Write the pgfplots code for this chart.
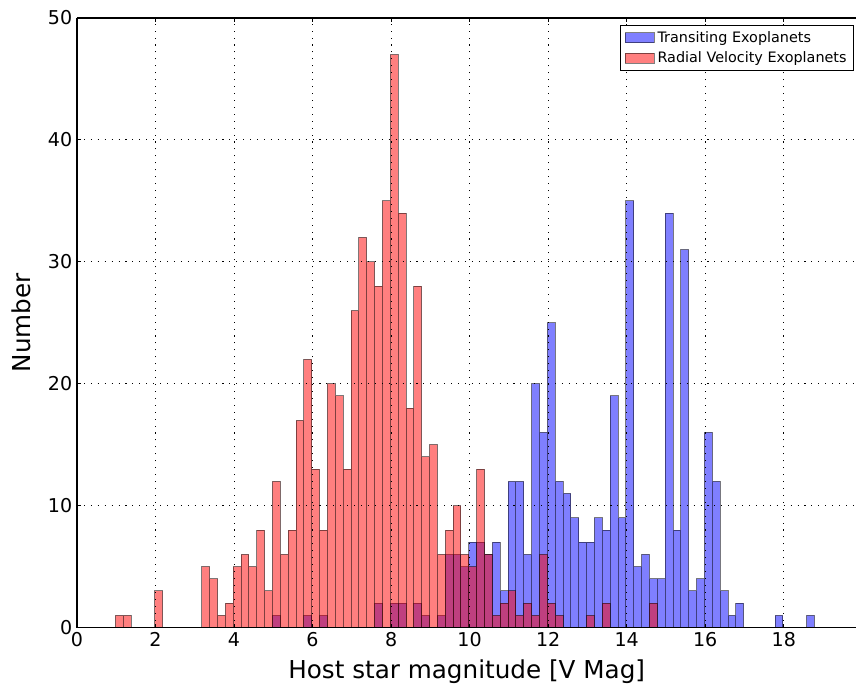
\documentclass[border=0pt]{standalone}
\usepackage{fontspec}
\setmainfont{DejaVu Sans}
\usepackage{pgfplots}
\pgfplotsset{compat=1.18}
\pgfplotsset{mylegend/.style={legend image code/.code={\draw[##1] (0pt,-3.75pt) rectangle (21.75pt,3.75pt);}}}
\begin{document}
\begin{tikzpicture}
\path (-57.75pt,-47.25pt) rectangle (585pt,471pt);
\begin{axis}[
  at={(0pt,0pt)}, anchor=south west,
  scale only axis, width=585pt, height=457.5pt,
  xmin=0, xmax=19.85, ymin=0, ymax=50,
  xtick={0,2,...,18}, ytick={0,10,...,50},
  axis x line*=box, axis y line*=left,
  tick align=inside, xtick pos=both, ytick pos=left,
  major tick length=3pt,
  tick style={black, line width=0.6pt},
  axis line style={black, line width=0.9pt, -},
  grid=major,
  major grid style={black, line width=0.6pt, dash pattern=on 0.8pt off 4.4pt},
  axis on top,
  /pgf/number format/assume math mode=true,
  ticklabel style={font=\fontsize{14.3}{17}\selectfont},
  xlabel={Host star magnitude [V Mag]},
  ylabel={Number},
  label style={font=\fontsize{18.5}{22}\selectfont},
  xlabel style={yshift=-3pt},
  ylabel style={yshift=6pt},
  legend cell align=left,
  legend style={at={(axis description cs:0.9974,0.9885)}, anchor=north east,
    draw=black, line width=0.7pt, fill=white,
    font=\fontsize{10.8}{12.5}\selectfont, row sep=1.5pt,
    inner xsep=3.5pt, inner ysep=2.5pt},
]
\addplot[ybar, bar width=0.2, bar shift=0pt, fill=blue, fill opacity=0.5,
  draw=black, draw opacity=0.5, line width=0.75pt, mylegend]
coordinates {
(5.08,1) (5.88,1) (6.28,1) (7.68,2) (8.08,2) (8.28,2) (8.68,2) (8.88,1)
(9.28,1) (9.48,6) (9.68,6) (9.88,5) (10.08,7) (10.28,7) (10.48,6) (10.68,7)
(10.88,3) (11.08,12) (11.28,12) (11.48,6) (11.68,20) (11.88,16) (12.08,25)
(12.28,12) (12.48,11) (12.68,9) (12.88,7) (13.08,7) (13.28,9) (13.48,8)
(13.68,19) (13.88,9) (14.08,35) (14.28,5) (14.48,6) (14.68,4) (14.88,4)
(15.08,34) (15.28,8) (15.48,31) (15.68,3) (15.88,4) (16.08,16) (16.28,12)
(16.48,3) (16.68,1) (16.88,2) (17.88,1) (18.68,1)
};
\addlegendentry{Transiting Exoplanets}
\addplot[ybar, bar width=0.2, bar shift=0pt, fill=red, fill opacity=0.5,
  draw=black, draw opacity=0.5, line width=0.75pt, mylegend]
coordinates {
(1.08,1) (1.28,1) (2.08,3) (3.28,5) (3.48,4) (3.68,1) (3.88,2) (4.08,5)
(4.28,6) (4.48,5) (4.68,8) (4.88,3) (5.08,12) (5.28,6) (5.48,8) (5.68,17)
(5.88,22) (6.08,13) (6.28,8) (6.48,20) (6.68,19) (6.88,13) (7.08,26)
(7.28,32) (7.48,30) (7.68,28) (7.88,35) (8.08,47) (8.28,34) (8.48,18)
(8.68,28) (8.88,14) (9.08,15) (9.28,6) (9.48,8) (9.68,10) (9.88,6)
(10.08,5) (10.28,13) (10.48,6) (10.68,1) (10.88,2) (11.08,3) (11.28,1)
(11.48,2) (11.68,1) (11.88,6) (12.08,2) (12.28,1) (13.08,1) (13.48,2)
(14.68,2)
};
\addlegendentry{Radial Velocity Exoplanets}
\end{axis}
\end{tikzpicture}
\end{document}
